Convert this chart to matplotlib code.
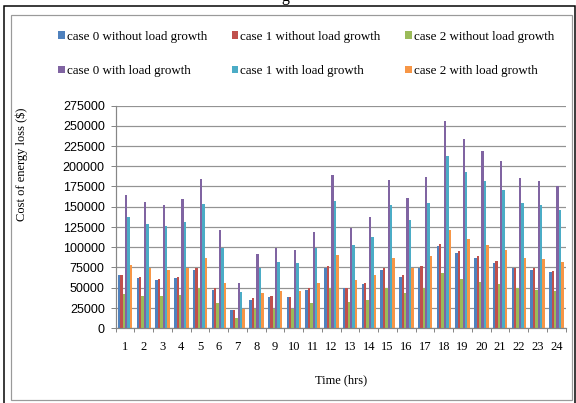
import numpy as np
import matplotlib
matplotlib.use("Agg")
import matplotlib.pyplot as plt
from matplotlib.patches import Rectangle
from matplotlib.ticker import FixedLocator

hours = [str(h) for h in range(1, 25)]

case0_without = [65000, 62000, 60000, 62000, 72000, 47000, 22000, 35000, 38000, 38000, 47000, 74000,
                 49000, 54000, 72000, 63000, 74000, 102000, 93000, 86500, 81000, 74000, 72000, 69000]
case1_without = [66000, 63000, 61000, 63000, 74000, 49000, 22000, 37000, 40000, 38000, 49000, 77000,
                 49500, 56000, 74000, 65000, 77000, 104000, 95000, 89000, 83000, 74000, 74000, 70000]
case2_without = [42500, 40000, 40000, 41000, 49000, 30500, 13000, 24000, 24000, 24000, 30500, 49000,
                 32500, 35000, 49000, 43000, 49000, 67500, 61000, 57000, 54000, 49000, 47000, 46000]
case0_with = [164000, 156000, 152000, 159000, 184000, 121000, 56000, 91000, 99000, 96000, 119000, 189000,
              124000, 137000, 183000, 161000, 187000, 256000, 233000, 219000, 206000, 185000, 182000, 175000]
case1_with = [137000, 129000, 126000, 131000, 153000, 99000, 45000, 74000, 82000, 80000, 99000, 157000,
              103000, 113000, 152000, 133000, 154000, 212000, 193000, 182000, 170500, 154000, 152000, 146000]
case2_with = [78000, 74000, 72000, 74000, 86500, 56000, 24000, 43000, 46000, 46000, 56000, 90000,
              59000, 65000, 86500, 74000, 88500, 121000, 110000, 103000, 97000, 86500, 85000, 82000]

series = [
    ("case 0 without load growth", case0_without, "#4F81BD"),
    ("case 1 without load growth", case1_without, "#C0504D"),
    ("case 2 without load growth", case2_without, "#9BBB59"),
    ("case 0 with load growth", case0_with, "#8064A2"),
    ("case 1 with load growth", case1_with, "#4BACC6"),
    ("case 2 with load growth", case2_with, "#F79646"),
]

SERIF = ["Liberation Serif", "DejaVu Serif"]
SANS = ["Liberation Sans", "DejaVu Sans"]

fig = plt.figure(figsize=(8, 5.6), dpi=72)
W, H = 576, 403.2

ax = fig.add_axes([115.7 / W, 1 - 328.3 / H, 450 / W, (328.3 - 105.7) / H])

x = np.arange(len(hours))
bw = 0.128
handles = []
for i, (name, vals, col) in enumerate(series):
    b = ax.bar(x + (i - 2.5) * bw, vals, width=bw, color=col, edgecolor="none", label=name, zorder=3)
    handles.append(b)

ax.set_xlim(-0.5, len(hours) - 0.5)
ax.set_ylim(0, 275000)
ax.set_yticks(np.arange(0, 275001, 25000))
ax.set_yticklabels([str(v) for v in range(0, 275001, 25000)], family=SANS, fontsize=12.5)
ax.set_xticks(x)
ax.set_xticklabels(hours, family=SERIF, fontsize=12.5)
ax.xaxis.set_minor_locator(FixedLocator(np.arange(-0.5, len(hours), 1)))
ax.tick_params(axis="x", which="major", length=0, pad=13)
ax.tick_params(axis="x", which="minor", length=4, color="#868686", width=1)
ax.tick_params(axis="y", length=5, color="#868686", width=1, pad=6)

ax.grid(axis="y", color="#939393", linewidth=1.2, zorder=0)
for s in ["top", "right"]:
    ax.spines[s].set_visible(False)
for s in ["left", "bottom"]:
    ax.spines[s].set_color("#868686")
    ax.spines[s].set_linewidth(1.2)
    ax.spines[s].set_zorder(4)

fig.text(341 / W, 1 - 380 / H, "Time (hrs)", family=SERIF, fontsize=12.5, ha="center", va="center")
fig.text(22 / W, 1 - 164 / H, "Cost of energy loss ($)", family=SERIF, fontsize=12.5,
         rotation=90, ha="center", va="center")

order = [0, 3, 1, 4, 2, 5]
leg = fig.legend([handles[k] for k in order], [series[k][0] for k in order],
                 loc="center", bbox_to_anchor=(306 / W, 1 - 54 / H), ncol=3, frameon=False,
                 prop={"family": SERIF, "size": 13}, handlelength=0.5, handleheight=0.5,
                 handletextpad=0.15, columnspacing=1.9, labelspacing=1.75)

# outer frame and chart-area frame
fig.patches.append(Rectangle((4 / W, -0.01), 571 / W, 1.01 - 6 / H, transform=fig.transFigure,
                             fill=False, edgecolor="black", linewidth=1.5))
fig.patches.append(Rectangle((11 / W, 1 - 400 / H), 561 / W, 385 / H, transform=fig.transFigure,
                             fill=False, edgecolor="#9a9a9a", linewidth=1.2))

# tail of the caption above the frame
fig.text(285 / W, 1 + 3 / H, "g", family=SERIF, fontsize=16, ha="center", va="center")

fig.savefig("out.png", dpi=72)
